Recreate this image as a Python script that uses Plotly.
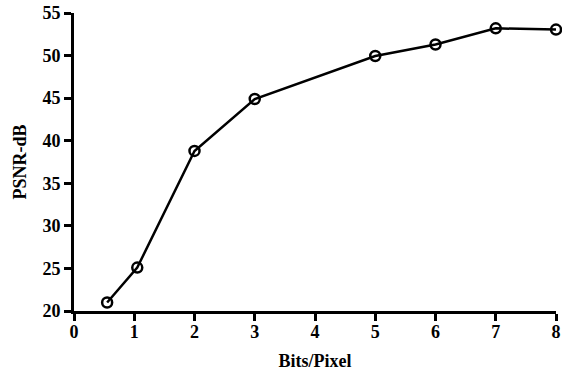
import plotly.graph_objects as go

bits = [0.55, 1.05, 2.0, 3.0, 5.0, 6.0, 7.0, 8.0]
psnr = [21.0, 25.1, 38.8, 44.9, 49.95, 51.3, 53.2, 53.05]
x_ticks = [0, 1, 2, 3, 4, 5, 6, 7, 8]
y_ticks = [20, 25, 30, 35, 40, 45, 50, 55]

font_fam = "Liberation Serif"

fig = go.Figure()
fig.add_trace(go.Scatter(
    x=bits, y=psnr, mode="lines+markers",
    line=dict(color="black", width=2.5),
    marker=dict(symbol="circle-open", size=10, color="black", line=dict(width=2.5)),
    cliponaxis=False, showlegend=False,
))

fig.update_layout(
    width=562, height=375,
    margin=dict(l=74, r=6, t=13, b=64, autoexpand=False),
    paper_bgcolor="white", plot_bgcolor="white",
    font=dict(family=font_fam, color="black"),
)
fig.update_xaxes(
    range=[0, 8], tickvals=x_ticks, ticktext=[str(v) for v in x_ticks],
    automargin=False,
    showgrid=False, zeroline=False, showline=True, linecolor="black", linewidth=3,
    ticks="outside", ticklen=7, tickwidth=2.5, tickcolor="black",
    ticklabelstandoff=-5,
    tickfont=dict(family=font_fam, size=18, color="black", weight="bold"),
    title=dict(text="<b>Bits/Pixel</b>", font=dict(family=font_fam, size=18, color="black"), standoff=14),
)
fig.update_yaxes(
    range=[20, 55], tickvals=y_ticks, ticktext=[str(v) for v in y_ticks],
    automargin=False,
    showgrid=False, zeroline=False, showline=True, linecolor="black", linewidth=3,
    ticks="outside", ticklen=7, tickwidth=2.5, tickcolor="black",
    tickfont=dict(family=font_fam, size=18, color="black", weight="bold"),
    title=dict(text="<b>PSNR-dB</b>", font=dict(family=font_fam, size=18, color="black"), standoff=12),
)

fig.write_html("out.html")
